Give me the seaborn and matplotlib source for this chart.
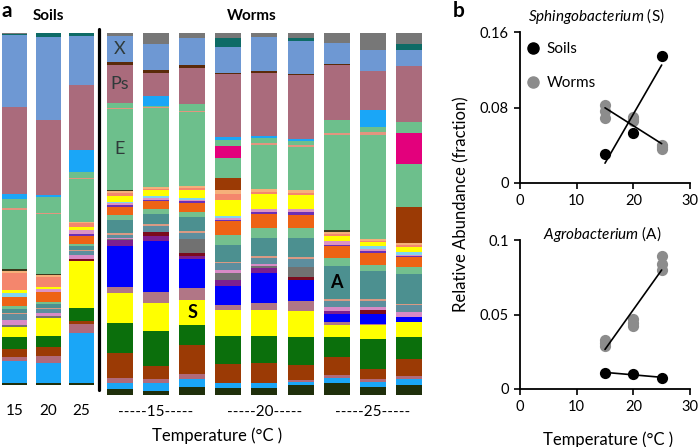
import numpy as np
import pandas as pd
import matplotlib
matplotlib.use("Agg")
import matplotlib.pyplot as plt
from matplotlib.lines import Line2D
import seaborn as sns

# ---------------- data ----------------
taxa = ["Other", "Teal", "X", "DBrown", "Ps", "Sky", "E", "Magenta", "Stripe1", "E2",
        "Brown", "Dark", "LOrange", "Salmon", "Yellow", "Cyan", "Pink", "Violet",
        "Orange", "Green2", "A", "Stripe2", "Teal3", "Pink2", "Gray", "DRed", "Purple",
        "Blue", "Mauve2", "S", "DGreen", "Brown2", "Mauve3", "Sky2", "Olive"]
taxon_colors = ["#777777", "#0e6b66", "#6e98d3", "#5a2a0a", "#aa6b7c", "#1aa6f7", "#6dbf8c",
                "#e3007c", "#e3957f", "#6dbf8c", "#9b3a05", "#3c3a1c", "#f6b07a", "#f4866d",
                "#ffff00", "#80d4f0", "#dc93c4", "#6b2fb5", "#ee6314", "#74c08e", "#4c9090",
                "#d99a84", "#5d8e9e", "#d88ac6", "#717171", "#7b0b1d", "#7c1f8e", "#0000fb",
                "#b17686", "#ffff00", "#0b6f0c", "#9b3a05", "#b06a7b", "#1aa6f7", "#1f2f0b"]

soil_labels = ["15", "20", "25"]
worm_group_labels = ["-----15-----", "-----20-----", "-----25-----"]

# relative abundances (arbitrary units, normalised per bar)
soil_15 = dict(Other=1, Teal=1, X=71, Ps=87, Sky=5, E=9, Stripe1=1.5, E2=59, Dark=2, LOrange=2,
               Salmon=17, Yellow=3, Cyan=4, Orange=9, Green2=3, A=4, Stripe2=1, Teal3=5, Pink2=5,
               Gray=2, S=10, DGreen=12, Brown2=8, Mauve3=4, Sky2=22, Olive=2)
soil_20 = dict(Teal=4, X=82, Ps=74, Sky=2, E=15, Stripe1=1, E2=60, Dark=1, LOrange=2, Salmon=9,
               Yellow=2, Pink=3, Orange=10, Green2=2, A=4, Stripe2=1, Teal3=4, Pink2=3, Gray=2,
               S=18, DGreen=11, Brown2=8, Mauve3=7, Sky2=20, Olive=2)
soil_25 = dict(Teal=3, X=48, Ps=65, Sky=21, E=6, Stripe1=1, E2=43, LOrange=1, Salmon=4, Yellow=3,
               Pink=4, Violet=2, Orange=8, Green2=2, A=4, Stripe2=1, Teal3=3, Pink2=4, DRed=2,
               S=47, DGreen=13, Brown2=3, Mauve3=9, Sky2=49, Olive=2)

worm_15a = dict(Other=3, X=26, DBrown=3, Ps=37, E=5, Stripe1=1.5, E2=80, Dark=1.5, LOrange=2,
                Salmon=3, Yellow=6, Cyan=1, Pink=2, Violet=2, Orange=7, Green2=5, A=13, Stripe2=2,
                Teal3=3, Pink2=1, Gray=1, Purple=6, Blue=41, Mauve2=6, S=30, DGreen=29, Brown2=25,
                Mauve3=5, Sky2=6, Olive=6)
worm_15b = dict(Other=11, X=26, DBrown=2.5, Ps=23, Sky=10, E=1.5, Stripe1=1, E2=78, LOrange=2,
                Salmon=1.5, Yellow=5.5, Cyan=2, Pink=2, Violet=1, Orange=8, Green2=5, A=10,
                Stripe2=2, Teal3=6, DRed=4, Purple=5, Blue=51, Mauve2=11, S=27, DGreen=35,
                Brown2=13, Mauve3=4, Sky2=8, Olive=4)
worm_15c = dict(Other=4.5, X=27, DBrown=3, Ps=36, E=6.5, Stripe1=1.5, E2=73, LOrange=2, Salmon=2,
                Yellow=7.5, Cyan=2, Pink=1, Violet=2, Orange=9.5, Green2=5, A=14, Stripe2=2,
                Teal3=6, Gray=13, DRed=3, Purple=3, Blue=29, Mauve2=12, S=25, DGreen=19,
                Brown2=29, Mauve3=5, Sky2=8, Olive=8)
worm_20a = dict(Other=4.5, Teal=9, X=26, DBrown=1.3, Ps=62, Sky=3, E=5.5, Magenta=12, E2=20,
                Brown=12, LOrange=4, Salmon=6, Yellow=15, Cyan=2, Pink=2, Violet=1, Orange=14,
                Green2=10, A=17, Stripe2=1, Teal3=7, Pink2=3, Gray=6, Purple=6, Blue=19,
                Mauve2=5, S=26, DGreen=27, Brown2=19, Sky2=5, Olive=7)
worm_20b = dict(Other=3.5, X=34, DBrown=1.5, Ps=62, Sky=2.5, E=4.5, Stripe1=2, E2=43, LOrange=3,
                Salmon=2, Yellow=15, Pink=3, Violet=2, Orange=14, Green2=10, A=17, Stripe2=2,
                Teal3=6, Pink2=2, Gray=2, Purple=5, Blue=30, Mauve2=6, S=26, DGreen=27,
                Brown2=19, Sky2=5, Olive=7)
worm_20c = dict(Other=5.3, Teal=2.7, X=32, DBrown=1, Ps=62, Sky=2, E=4, Stripe1=2, E2=42,
                LOrange=3, Salmon=2, Yellow=14, Pink=3, Violet=2, Orange=13, Green2=10, A=18,
                Stripe2=2, Teal3=8, Gray=10, DRed=3, Blue=20, Mauve2=10, S=25, DGreen=28,
                Brown2=14, Mauve3=2, Sky2=3, Olive=10)
worm_25a = dict(Other=10, X=21, DBrown=0.7, Ps=54, E=13, Stripe1=2, E2=94, Dark=2, LOrange=2,
                Salmon=2, Yellow=5, Pink=4, Violet=1, Orange=12, Green2=8, A=32, Stripe2=2,
                Teal3=6, Pink2=4, Purple=3, Blue=8, Mauve2=3, S=12, DGreen=19, Brown2=18,
                Mauve3=3, Sky2=5, Olive=12)
worm_25b = dict(Other=17, X=21, Ps=38, Sky=17, E=5, Stripe1=3, E2=102, LOrange=2, Salmon=1.5,
                Yellow=4, Cyan=3, Pink=2, Violet=1.5, Orange=12, Green2=6, A=28, Stripe2=2,
                Teal3=6, Pink2=3, DRed=4, Blue=9, Mauve2=1.5, S=14, DGreen=29, Brown2=10,
                Mauve3=3.5, Sky2=4.5, Olive=8)
worm_25c = dict(Other=11, Teal=6, X=16, Ps=56, E=11, Magenta=31, E2=43, Brown=37, LOrange=2,
                Salmon=2, Yellow=5, Cyan=3, Pink=1, Violet=1, Orange=10, Green2=7, A=30,
                Stripe2=1, Teal3=7, Pink2=5, Blue=5, S=15, DGreen=22, Brown2=17, Mauve3=3,
                Sky2=6, Olive=10)

soil_samples = [soil_15, soil_20, soil_25]
worm_samples = [worm_15a, worm_15b, worm_15c, worm_20a, worm_20b, worm_20c,
                worm_25a, worm_25b, worm_25c]

temps = [15, 20, 25]
worm_temps = [15, 15, 15, 20, 20, 20, 25, 25, 25]
sphingo_soil = [0.031, 0.053, 0.135]
sphingo_worm = [0.083, 0.076, 0.069, 0.070, 0.066, 0.068, 0.040, 0.036, 0.038]
agro_soil = [0.0107, 0.0104, 0.0074]
agro_worm = [0.033, 0.031, 0.029, 0.047, 0.044, 0.042, 0.089, 0.084, 0.080]

# ---------------- style ----------------
sns.set_theme(style="ticks")
plt.rcParams["font.family"] = ["Lato", "DejaVu Sans"]
plt.rcParams["mathtext.fontset"] = "custom"
plt.rcParams["mathtext.it"] = "Lato:italic"
plt.rcParams["mathtext.rm"] = "Lato"
plt.rcParams["text.color"] = "black"
plt.rcParams["axes.labelcolor"] = "black"
plt.rcParams["xtick.color"] = "black"
plt.rcParams["ytick.color"] = "black"

W, H = 700, 447
fig = plt.figure(figsize=(7.0, 4.47), dpi=100)
fig.patch.set_facecolor("white")


def fx(px):
    return px / W


def fy(py):
    return 1 - py / H


palette = dict(zip(taxa, taxon_colors))


def to_long(samples):
    rows = []
    for i, s in enumerate(samples):
        tot = sum(s.values())
        for t in taxa:
            rows.append({"pos": i, "taxon": t, "frac": s.get(t, 0) / tot})
    return pd.DataFrame(rows)


def seg_mid(sample, taxon):
    tot = sum(sample.values())
    above = 0
    for t in taxa:
        if t == taxon:
            break
        above += sample.get(t, 0)
    return 1 - (above + sample.get(taxon, 0) / 2) / tot


def stacked(ax, samples, shrink):
    sns.histplot(to_long(samples), x="pos", weights="frac", hue="taxon", hue_order=taxa,
                 palette=palette, multiple="stack", discrete=True, shrink=shrink,
                 alpha=1, linewidth=0, legend=False, ax=ax)
    ax.set_ylim(0, 1)
    ax.set_yticks([])
    ax.set_xlabel("")
    ax.set_ylabel("")
    for sp in ax.spines.values():
        sp.set_visible(False)
    ax.set_facecolor("none")


# ---------------- panel a ----------------
ax_s = fig.add_axes([fx(0), fy(385), fx(97), (385 - 33) / H])
stacked(ax_s, soil_samples, 25 / 33.5)
ax_s.set_xlim(-14.5 / 33.5, (97 - 14.5) / 33.5)
ax_s.set_xticks([0, 1, 2], soil_labels)
ax_s.tick_params(axis="x", length=0, pad=13.5, labelsize=11)

ax_w = fig.add_axes([fx(103), fy(395), fx(425 - 103), (395 - 33) / H])
stacked(ax_w, worm_samples, 26 / 36.1)
ax_w.set_xlim((103 - 120) / 36.1, (425 - 120) / 36.1)
ax_w.set_xticks([1, 4, 7], worm_group_labels)
ax_w.tick_params(axis="x", length=0, pad=7, labelsize=11)

for lab, bar, tax in [("X", 0, "X"), ("Ps", 0, "Ps"), ("E", 0, "E2")]:
    ax_w.text(bar, seg_mid(worm_samples[bar], tax), lab, ha="center", va="center",
              fontsize=13, color="#2f3a3a")
ax_w.text(2, seg_mid(worm_samples[2], "S"), "S", ha="center", va="center",
          fontsize=13, fontweight="bold", color="black")
ax_w.text(6, seg_mid(worm_samples[6], "A"), "A", ha="center", va="center",
          fontsize=13, fontweight="bold", color="black")

fig.add_artist(Line2D([fx(99), fx(99)], [fy(29), fy(390)], color="black", lw=2.3))

fig.text(fx(1), fy(11), "a", fontsize=15, fontweight="bold", ha="left", va="center")
fig.text(fx(48), fy(16), "Soils", fontsize=11, fontweight="bold", ha="center", va="center")
fig.text(fx(252), fy(16), "Worms", fontsize=11, fontweight="bold", ha="center", va="center")
fig.text(fx(217), fy(436), "Temperature (°C )", fontsize=12, ha="center", va="center")

# ---------------- panel b ----------------
gray = "#8c8c8c"


def scatter_panel(ax, soil_vals, worm_vals, ymax, yticks, ylabels):
    sns.scatterplot(x=worm_temps, y=worm_vals, color=gray, s=65, linewidth=0, ax=ax,
                    zorder=2, legend=False)
    sns.scatterplot(x=temps, y=soil_vals, color="black", s=65, linewidth=0, ax=ax,
                    zorder=3, legend=False)
    sns.regplot(x=temps, y=soil_vals, ci=None, scatter=False, ax=ax, color="black",
                line_kws=dict(lw=1.2, zorder=4))
    sns.regplot(x=worm_temps, y=worm_vals, ci=None, scatter=False, ax=ax, color="black",
                line_kws=dict(lw=1.2, zorder=4))
    ax.set_xlim(0, 30)
    ax.set_ylim(0, ymax)
    ax.set_xticks([0, 10, 20, 30])
    ax.set_yticks(yticks, ylabels)
    sns.despine(ax=ax)
    for sp in ("left", "bottom"):
        ax.spines[sp].set_linewidth(1.3)
        ax.spines[sp].set_color("black")
    ax.tick_params(direction="out", length=4, width=1.2, labelsize=10.5, pad=4)
    ax.set_xlabel("")
    ax.set_ylabel("")
    ax.set_facecolor("none")


ax1 = fig.add_axes([fx(520), fy(183), fx(690 - 520), (183 - 32) / H])
scatter_panel(ax1, sphingo_soil, sphingo_worm, 0.16, [0, 0.08, 0.16], ["0", "0.08", "0.16"])
ax2 = fig.add_axes([fx(520), fy(389), fx(690 - 520), (389 - 240) / H])
scatter_panel(ax2, agro_soil, agro_worm, 0.1, [0, 0.05, 0.1], ["0", "0.05", "0.1"])

handles = [Line2D([], [], marker="o", ls="", color="black", markersize=8),
           Line2D([], [], marker="o", ls="", color=gray, markersize=8)]
ax1.legend(handles, ["Soils", "Worms"], loc="upper left",
           bbox_to_anchor=(fx(525), fy(42)), bbox_transform=fig.transFigure,
           frameon=False, borderpad=0, borderaxespad=0, handlelength=1.0,
           handletextpad=0.4, labelspacing=1.3, fontsize=11)

fig.text(fx(453), fy(11), "b", fontsize=15, fontweight="bold", ha="left", va="center")
fig.text(fx(596), fy(16), r"$\mathit{Sphingobacterium}$ (S)", fontsize=11, ha="center",
         va="center")
fig.text(fx(602), fy(234), r"$\mathit{Agrobacterium}$ (A)", fontsize=11, ha="center",
         va="center")
fig.text(fx(461), fy(204), "Relative Abundance (fraction)", rotation=90, fontsize=12,
         ha="center", va="center")
fig.text(fx(608), fy(440), "Temperature (°C )", fontsize=12, ha="center", va="center")

fig.savefig("out.png", dpi=100, facecolor="white")
